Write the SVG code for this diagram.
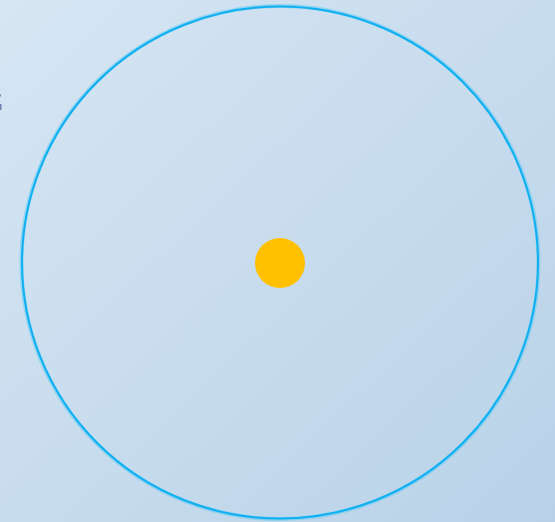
<svg xmlns="http://www.w3.org/2000/svg" width="555" height="522" viewBox="0 0 555 522">
<defs>
<linearGradient id="bg" x1="0" y1="0" x2="1" y2="1">
<stop offset="0" stop-color="#D6E6F3"/>
<stop offset="1" stop-color="#B9D2E8"/>
</linearGradient>
<style>
.orbit-halo{fill:none;stroke:#5EC8F5;stroke-width:4;opacity:0.55}
.orbit{fill:none;stroke:#0EB0F0;stroke-width:2}
.sun{fill:#FFC000}
.mark{fill:#7083AE}
</style>
</defs>
<rect width="555" height="522" fill="url(#bg)"/>
<g id="marks">
<rect class="mark" x="0" y="94.5" width="1" height="2"/>
<rect class="mark" x="0" y="104" width="1.5" height="6"/>
</g>
<g id="connectors"></g>
<g id="orbit-node">
<ellipse class="orbit-halo" cx="280" cy="262.5" rx="258.5" ry="256.5"/>
<ellipse class="orbit" cx="280" cy="262.5" rx="258" ry="256"/>
</g>
<g id="sun-node">
<circle class="sun" cx="280" cy="263" r="25"/>
</g>
</svg>
